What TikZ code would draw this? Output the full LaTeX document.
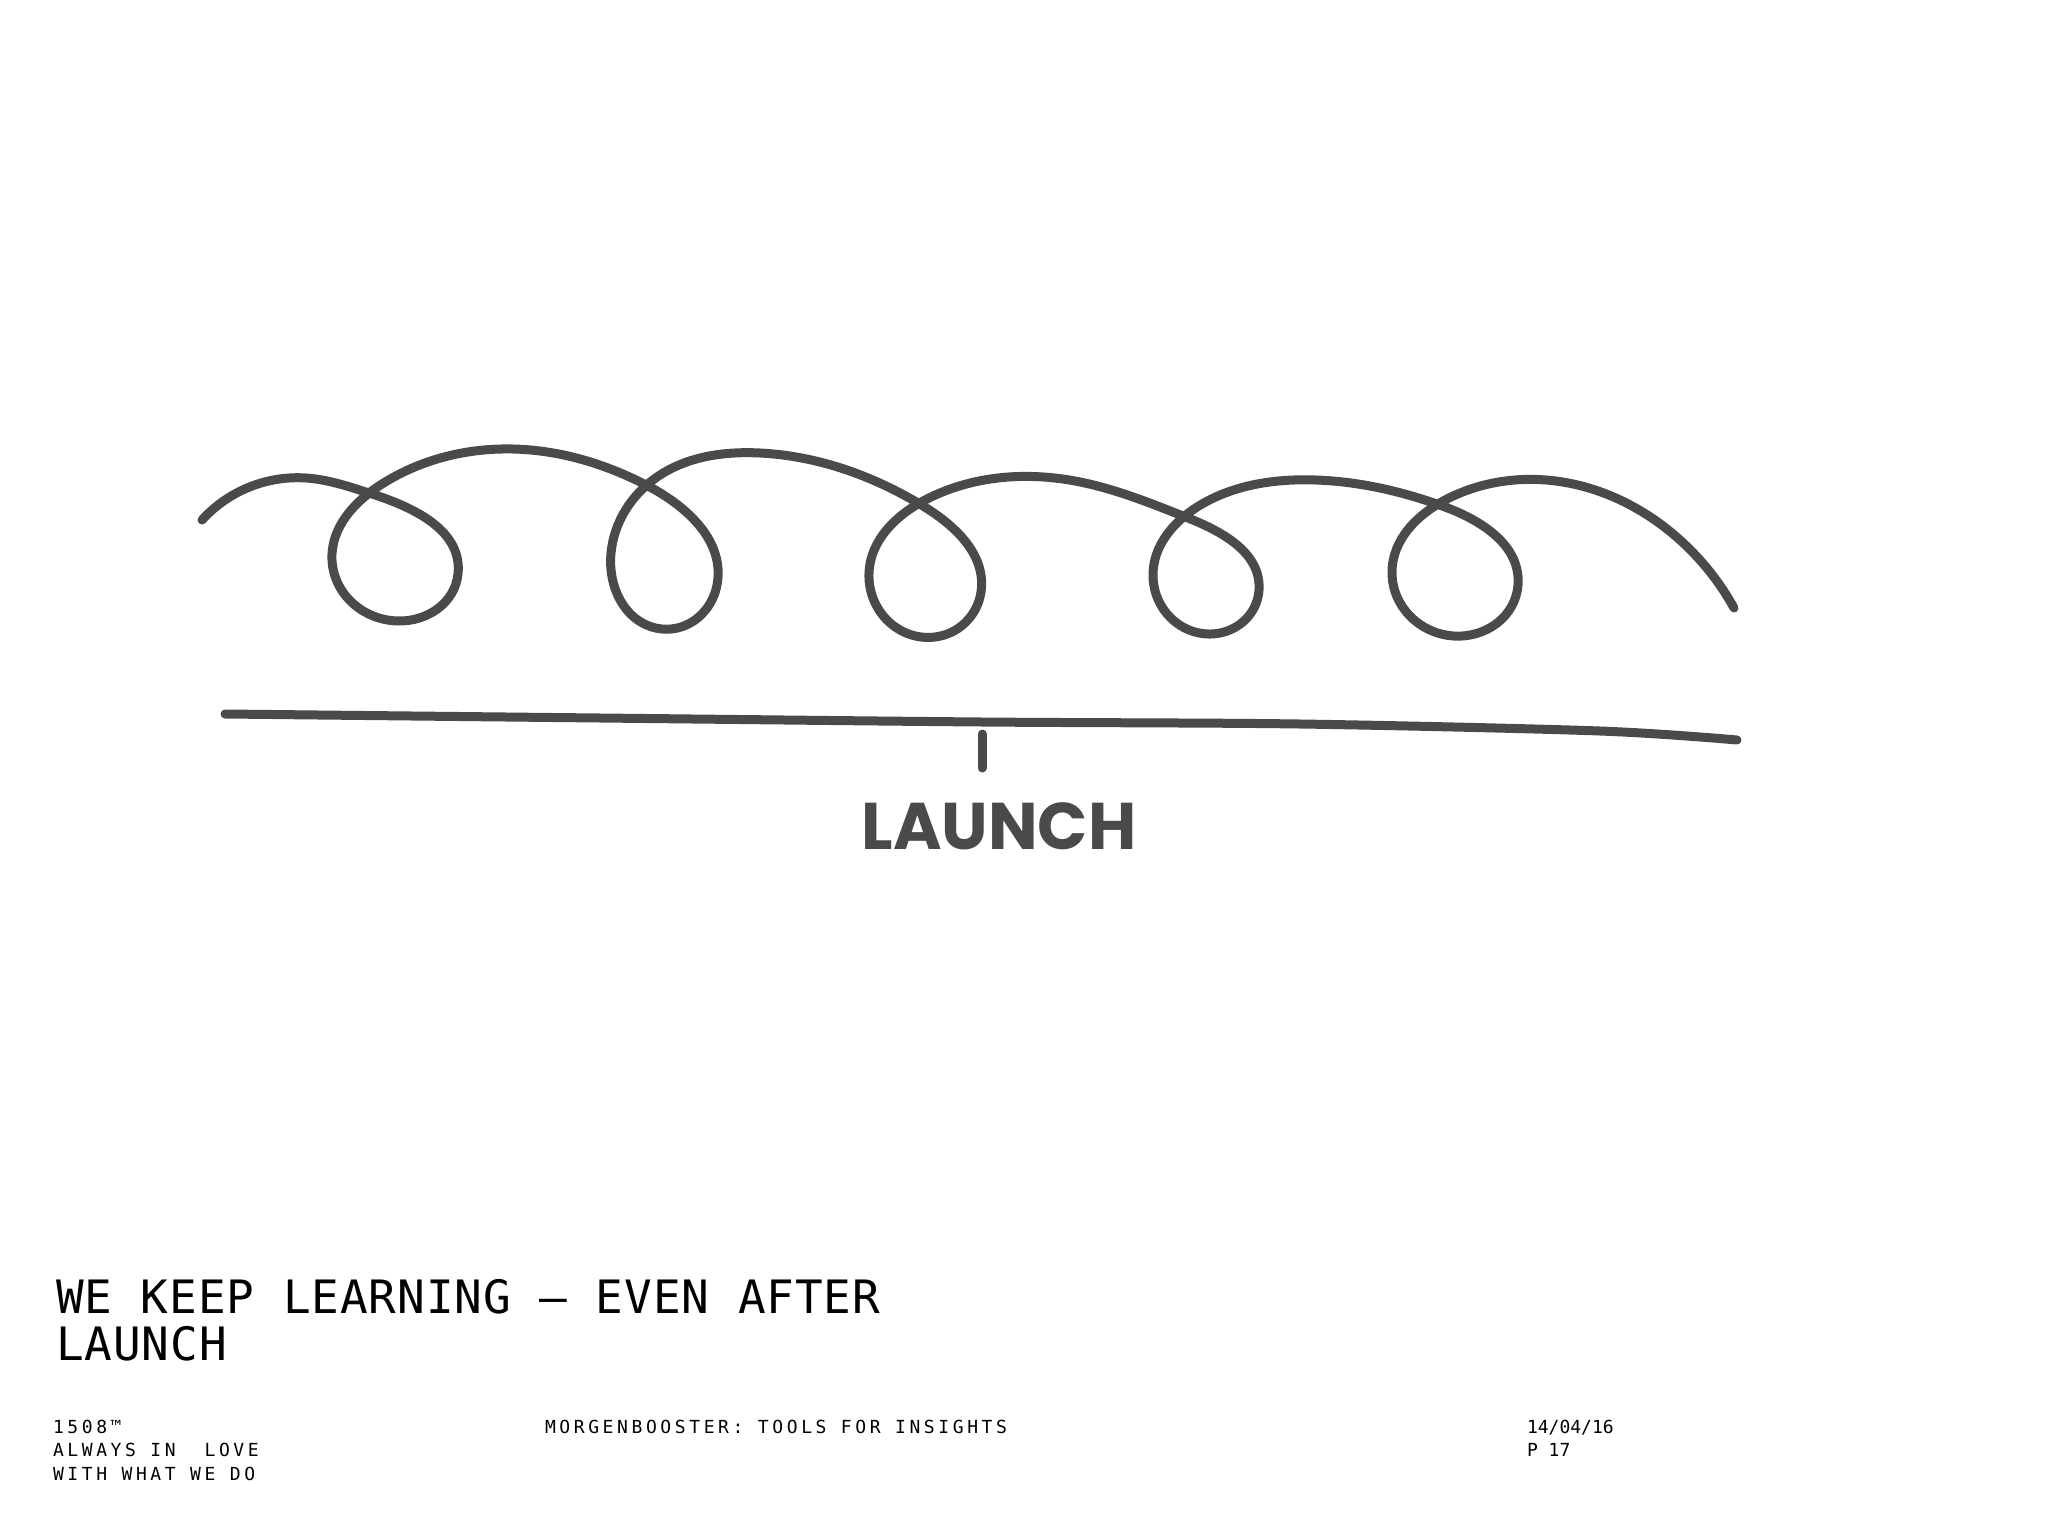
\documentclass[tikz,border=0pt]{standalone}
\usepackage{fontspec}
\usetikzlibrary{hobby}
\newfontfamily\titlefont{DejaVu Sans Mono}[LetterSpace=2]
\newfontfamily\footfont{DejaVu Sans Mono}[LetterSpace=20]
\newfontfamily\datefont{DejaVu Sans Mono}
\newfontfamily\handfont{Poppins}
\definecolor{pen}{HTML}{4A4A4A}
\begin{document}
\begin{tikzpicture}[x=1pt,y=-1pt,
  penline/.style={draw=pen,line width=9pt,line cap=round,line join=round},
  txt/.style={inner sep=0pt,outer sep=0pt,anchor=base west,text=black},
  titletxt/.style={txt,font=\titlefont\fontsize{46pt}{47pt}\selectfont},
  foottxt/.style={txt,font=\footfont\fontsize{18pt}{24pt}\selectfont},
  datetxt/.style={txt,font=\datefont\fontsize{18pt}{24pt}\selectfont},
  handtxt/.style={inner sep=0pt,outer sep=0pt,anchor=base,text=pen,font=\handfont\bfseries\fontsize{66pt}{70pt}\selectfont}]
\useasboundingbox[fill=white] (0,0) rectangle (2048,1536);

% looping line
\draw[penline,use Hobby shortcut] (202,520) .. (306,478) .. (372,494) .. (458,574) ..
 (398,621) .. (332,560) .. (382,484) .. (513,449) .. (648,486) .. (717,585) ..
 (662,629) .. (611,553) .. (657,477) .. (760,453) .. (923,506) .. (981,592) ..
 (935,637) .. (869,573) .. (927,499) .. (1075,481) .. (1188,518) .. (1259,590) ..
 (1211,634) .. (1153,577) .. (1202,504) .. (1316,480) .. (1445,507) .. (1518,585) ..
 (1454,636) .. (1392,573) .. (1447,499) .. (1546,480) .. (1680,540) .. (1734,608);

% time line and tick
\draw[penline] plot[smooth,tension=0.5] coordinates {
 (225,714) (600,718) (982,722) (1300,724) (1600,731) (1737,740)};
\coordinate (tickTop) at (982,734);
\coordinate (tickBot) at (982,768);
\draw[penline] (tickTop) -- (tickBot);

\node[handtxt] (launchLbl) at (999,849) {LAUNCH};

% title
\node[titletxt] (title1) at (56,1313) {WE KEEP LEARNING – EVEN AFTER};
\node[titletxt] (title2) at (56,1360) {LAUNCH};

% footer
\node[foottxt] (f1) at (53,1433) {1508™};
\node[foottxt] (f2) at (53,1456) {ALWAYS IN\ \ LOVE};
\node[foottxt] (f3) at (53,1480) {WITH WHAT WE DO};
\node[foottxt] (fmid) at (545,1433) {MORGENBOOSTER: TOOLS FOR INSIGHTS};
\node[datetxt] (fdate) at (1527,1433) {14/04/16};
\node[datetxt] (fpage) at (1527,1456) {P 17};
\end{tikzpicture}
\end{document}
